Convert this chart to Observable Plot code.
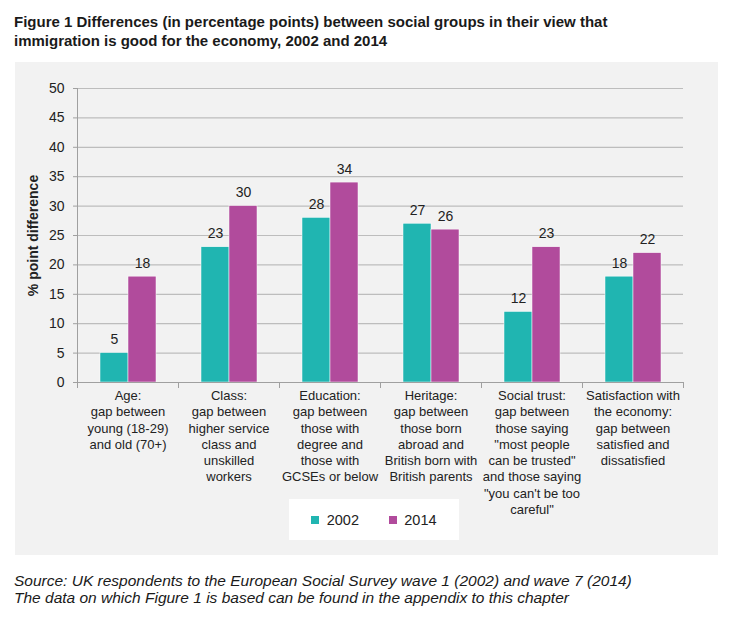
<!DOCTYPE html>
<html>
<head>
<meta charset="utf-8">
<script src="https://cdn.jsdelivr.net/npm/d3@7"></script>
<script src="https://cdn.jsdelivr.net/npm/@observablehq/plot@0.6"></script>
<style>
  html, body { margin: 0; padding: 0; background: #fff; }
  body { width: 730px; height: 617px; position: relative; font-family: "Liberation Sans", Arial, sans-serif; color: #222; }
  .title { position: absolute; left: 14px; top: 12px; font-weight: bold; font-size: 15px; line-height: 19px; color: #1a1a1a; white-space: nowrap; }
  .panel { position: absolute; left: 15px; top: 62px; width: 703px; height: 493px; background: #f2f2f2; }
  .legendbox { position: absolute; left: 274px; top: 437px; width: 170px; height: 41px; background: #fff; display: flex; align-items: center; justify-content: center; }
  .source { position: absolute; left: 14px; top: 573px; font-style: italic; font-size: 15.5px; line-height: 16.5px; color: #1a1a1a; white-space: nowrap; }
  .lg-swatch { margin-right: 0 !important; }
  .lg-swatch + .lg-swatch { margin-left: 30px !important; }
  .lg-swatches { margin: 0 !important; min-height: 0 !important; }
</style>
</head>
<body>
<div class="title">Figure 1 Differences (in percentage points) between social groups in their view that<br>immigration is good for the economy, 2002 and 2014</div>
<div class="panel" id="panel"><div class="legendbox" id="legend"></div></div>
<div class="source">Source: UK respondents to the European Social Survey wave 1 (2002) and wave 7 (2014)<br>The data on which Figure 1 is based can be found in the appendix to this chapter</div>
<script>
const categories = [
  "Age:\ngap between\nyoung (18-29)\nand old (70+)",
  "Class:\ngap between\nhigher service\nclass and\nunskilled\nworkers",
  "Education:\ngap between\nthose with\ndegree and\nthose with\nGCSEs or below",
  "Heritage:\ngap between\nthose born\nabroad and\nBritish born with\nBritish parents",
  "Social trust:\ngap between\nthose saying\n\"most people\ncan be trusted\"\nand those saying\n\"you can't be too\ncareful\"",
  "Satisfaction with\nthe economy:\ngap between\nsatisfied and\ndissatisfied"
];
const years = ["2002", "2014"];
const values2002 = [5, 23, 28, 27, 12, 18];
const values2014 = [18, 30, 34, 26, 23, 22];
const yTicks = [0, 5, 10, 15, 20, 25, 30, 35, 40, 45, 50];
const colors = ["#20b5b1", "#b14b9c"];

const rows = categories.flatMap((c, i) => [
  {category: c, year: years[0], value: values2002[i]},
  {category: c, year: years[1], value: values2014[i]}
]);

const H = 460, mt = 26, mb = 140;
const plotH = H - mt - mb;

const chart = Plot.plot({
  width: 703,
  height: H,
  marginLeft: 61,
  marginRight: 34,
  marginTop: mt,
  marginBottom: mb,
  style: {background: "transparent", fontFamily: "'Liberation Sans', Arial, sans-serif", color: "#222", overflow: "visible"},
  fx: {domain: categories, padding: 0, label: null},
  x: {domain: years, paddingInner: 0, paddingOuter: 0.755, axis: null},
  y: {domain: [0, 50], axis: null},
  color: {domain: years, range: colors},
  marks: [
    Plot.gridY(yTicks, {stroke: "#bdbdbd", strokeOpacity: 1, strokeWidth: 1.2}),
    Plot.axisY(yTicks, {
      tickSize: 4, tickPadding: 9, fontSize: 14, stroke: "#a0a0a0",
      label: "% point difference", labelAnchor: "center", labelArrow: "none", labelOffset: 49,
      tickFormat: d => String(d)
    }),
    Plot.axisFx({anchor: "bottom", tickSize: 0, tickPadding: 6, fontSize: 13, lineHeight: 1.25, label: null, tickFormat: d => d}),
    Plot.barY(rows, {fx: "category", x: "year", y: "value", fill: "year", stroke: "#fff", strokeWidth: 0.5}),
    Plot.text(rows, {fx: "category", x: "year", y: "value", text: d => String(d.value), lineAnchor: "bottom", dy: -9, fontSize: 14, fill: "#222"}),
    Plot.ruleY([0], {stroke: "#a0a0a0"}),
    Plot.frame({anchor: "left", facetAnchor: "left", stroke: "#a0a0a0"}),
    Plot.frame({anchor: "left", stroke: "#a0a0a0", insetTop: plotH, insetBottom: -5}),
    Plot.frame({anchor: "right", facetAnchor: "right", stroke: "#a0a0a0", insetTop: plotH, insetBottom: -5})
  ]
});
chart.style.position = "absolute";
chart.style.left = "0px";
chart.style.top = "0px";
document.getElementById("panel").insertBefore(chart, document.getElementById("legend"));

chart.querySelectorAll("text").forEach(t => {
  if (t.textContent === "% point difference") { t.setAttribute("font-weight", "bold"); }
});

const legend = Plot.legend({
  color: {type: "categorical", domain: years, range: colors},
  swatchSize: 8,
  className: "lg",
  style: {fontSize: "14.5px", fontFamily: "'Liberation Sans', Arial, sans-serif", color: "#222", background: "transparent"}
});
document.getElementById("legend").appendChild(legend);
</script>
</body>
</html>
